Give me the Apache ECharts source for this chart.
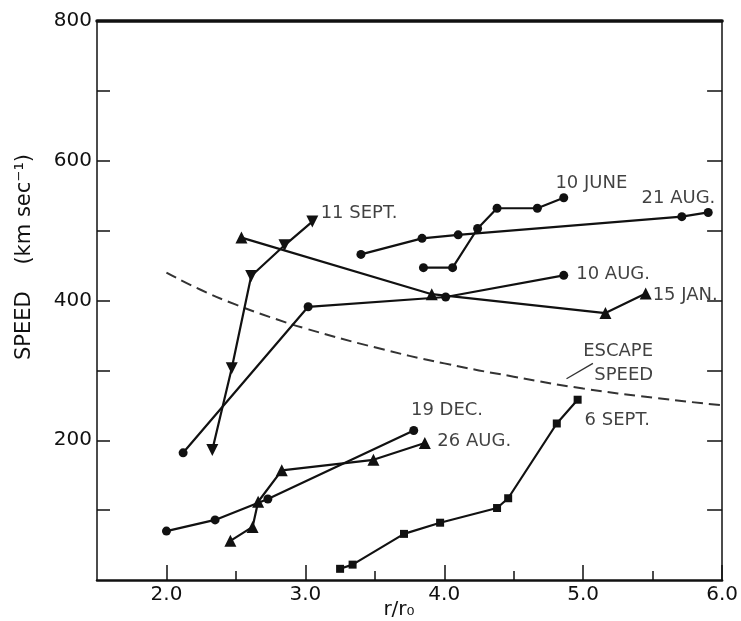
<!DOCTYPE html>
<html>
<head>
<meta charset="utf-8">
<script src="https://cdn.jsdelivr.net/npm/echarts@6/dist/echarts.min.js"></script>
<style>
  html, body { margin: 0; padding: 0; background: #fff; }
  #chart { width: 741px; height: 621px; }
</style>
</head>
<body>
<div id="chart"></div>
<script>
// values: r/r0 and speed (km/s)
var sept11X = [2.33, 2.47, 2.61, 2.85, 3.05];
var sept11Y = [186, 303, 435, 479, 513];
var jan15X = [2.54, 3.91, 5.16, 5.45];
var jan15Y = [490, 409, 382, 410];
var aug10X = [2.12, 3.02, 4.01, 4.86];
var aug10Y = [182, 391, 405, 436];
var aug21X = [3.40, 3.84, 4.10, 5.71, 5.90];
var aug21Y = [466, 489, 494, 520, 526];
var june10X = [3.85, 4.06, 4.24, 4.38, 4.67, 4.86];
var june10Y = [447, 447, 503, 532, 532, 547];
var dec19X = [2.00, 2.35, 2.73, 3.78];
var dec19Y = [70, 86, 116, 214];
var aug26X = [2.46, 2.62, 2.66, 2.83, 3.49, 3.86];
var aug26Y = [56, 76, 112, 157, 172, 196];
var sept6X = [3.25, 3.34, 3.71, 3.97, 4.38, 4.46, 4.81, 4.96];
var sept6Y = [16, 22, 66, 82, 103, 117, 224, 258];
var escapeX = [2.0, 2.25, 2.5, 2.75, 3.0, 3.5, 4.0, 4.5, 5.0, 5.5, 6.0];
var escapeY = [440, 415, 394, 376, 360, 333, 310, 291, 274, 261, 250];
var leaderX = [4.88, 5.07];
var leaderY = [288, 310];

var noteText = ["11 SEPT.", "10 JUNE", "21 AUG.", "10 AUG.", "15 JAN.", "ESCAPE", "SPEED", "19 DEC.", "26 AUG.", "6 SEPT."];
var noteX = [3.11, 4.80, 5.42, 4.95, 5.50, 5.00, 5.08, 3.76, 3.95, 5.01];
var noteY = [525, 567, 546, 438, 408, 327, 293, 243, 198, 229];

var xMajor = [2, 3, 4, 5, 6];
var xMinor = [2.5, 3.5, 4.5, 5.5];
var yTicks = [100, 200, 300, 400, 500, 600, 700];
var yLabels = [200, 400, 600, 800];

var ink = "#111";
var font = "DejaVu Sans";

function pairs(xs, ys) {
  var out = [];
  for (var i = 0; i < xs.length; i++) out.push([xs[i], ys[i]]);
  return out;
}

function run(name, xs, ys, symbol, size, rotate) {
  return {
    name: name,
    type: "line",
    data: pairs(xs, ys),
    symbol: symbol,
    symbolSize: size,
    symbolRotate: rotate || 0,
    showSymbol: true,
    lineStyle: { color: ink, width: 2.2 },
    itemStyle: { color: ink },
    z: 3
  };
}

var notes = [];
for (var k = 0; k < noteText.length; k++) {
  notes.push({ name: noteText[k], value: [noteX[k], noteY[k]] });
}

var myChart = echarts.init(document.getElementById("chart"));
myChart.setOption({
  animation: false,
  backgroundColor: "#fff",
  grid: { left: 97, right: 18, top: 21, bottom: 41 },
  xAxis: [
    {
      type: "value", min: 1.5, max: 6, interval: 0.5,
      position: "bottom",
      splitLine: { show: false },
      axisLine: { show: true, lineStyle: { color: ink, width: 2.5 } },
      axisTick: { show: true, inside: true, length: 15, customValues: xMajor, lineStyle: { color: ink, width: 1.5 } },
      axisLabel: {
        show: true, customValues: xMajor, margin: 5,
        color: "#111", fontSize: 20, fontFamily: font,
        formatter: function (v) { return v.toFixed(1); }
      }
    },
    {
      type: "value", min: 1.5, max: 6, interval: 0.5,
      position: "bottom",
      splitLine: { show: false },
      axisLine: { show: false },
      axisTick: { show: true, inside: true, length: 9, customValues: xMinor, lineStyle: { color: ink, width: 1.5 } },
      axisLabel: { show: false }
    },
    {
      type: "value", min: 1.5, max: 6, interval: 0.5,
      position: "top",
      splitLine: { show: false },
      axisLine: { show: true, lineStyle: { color: ink, width: 3.5 } },
      axisTick: { show: false },
      axisLabel: { show: false }
    }
  ],
  yAxis: [
    {
      type: "value", min: 0, max: 800, interval: 100,
      position: "left",
      splitLine: { show: false },
      axisLine: { show: true, lineStyle: { color: ink, width: 1.5 } },
      axisTick: { show: true, inside: true, length: 13, customValues: yTicks, lineStyle: { color: ink, width: 1.5 } },
      axisLabel: {
        show: true, customValues: yLabels, margin: 5,
        color: "#111", fontSize: 20, fontFamily: font
      }
    },
    {
      type: "value", min: 0, max: 800, interval: 100,
      position: "right",
      splitLine: { show: false },
      axisLine: { show: true, lineStyle: { color: ink, width: 1.5 } },
      axisTick: { show: true, inside: true, length: 15, customValues: yTicks, lineStyle: { color: ink, width: 1.5 } },
      axisLabel: { show: false }
    }
  ],
  graphic: [
    {
      type: "text", x: 25, y: 257, rotation: Math.PI / 2,
      style: {
        text: "SPEED    (km sec\u207B\u00B9)",
        font: "21px DejaVu Sans", fill: "#111",
        align: "center", verticalAlign: "middle"
      }
    },
    {
      type: "text", x: 399, y: 610,
      style: {
        text: "r/r\u2080",
        font: "20px DejaVu Sans", fill: "#111",
        align: "center", verticalAlign: "middle"
      }
    }
  ],
  series: [
    run("11 SEPT.", sept11X, sept11Y, "triangle", 12, 180),
    run("15 JAN.", jan15X, jan15Y, "triangle", 12),
    run("10 AUG.", aug10X, aug10Y, "circle", 9),
    run("21 AUG.", aug21X, aug21Y, "circle", 9),
    run("10 JUNE", june10X, june10Y, "circle", 9),
    run("19 DEC.", dec19X, dec19Y, "circle", 9),
    run("26 AUG.", aug26X, aug26Y, "triangle", 12),
    run("6 SEPT.", sept6X, sept6Y, "rect", 8),
    {
      name: "ESCAPE SPEED",
      type: "line",
      data: pairs(escapeX, escapeY),
      smooth: true,
      showSymbol: false,
      symbol: "none",
      lineStyle: { color: "#333", width: 2, type: [11, 6] },
      z: 2
    },
    {
      name: "leader",
      type: "line",
      data: pairs(leaderX, leaderY),
      showSymbol: false,
      symbol: "none",
      lineStyle: { color: "#333", width: 1.4 },
      z: 2
    },
    {
      name: "notes",
      type: "scatter",
      data: notes,
      symbolSize: 0,
      label: {
        show: true, position: "right", distance: 0,
        formatter: "{b}", color: "#111",
        fontSize: 18, fontFamily: font
      },
      z: 4
    }
  ]
});
</script>
</body>
</html>
